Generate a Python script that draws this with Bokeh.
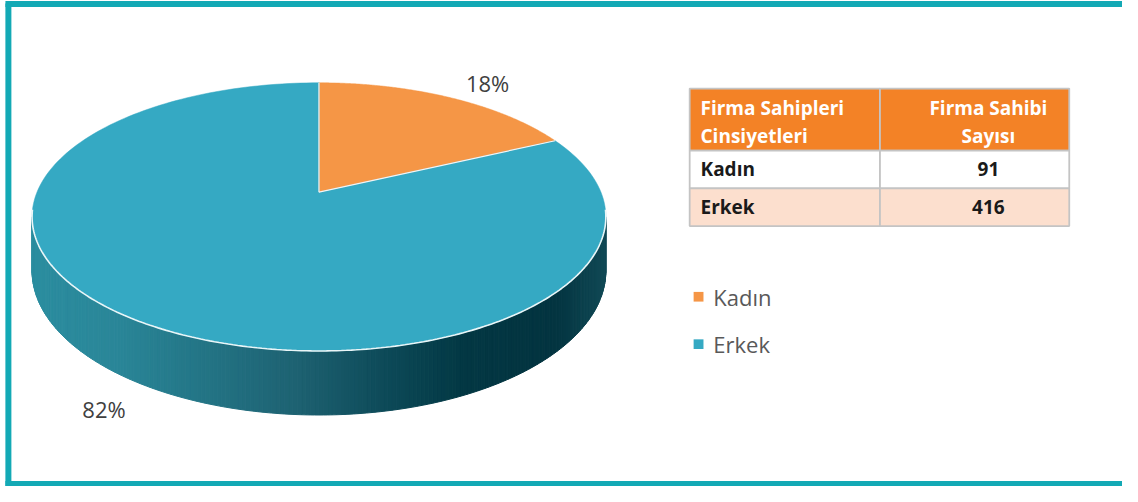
import numpy as np
from bokeh.plotting import figure
from bokeh.models import Range1d
from bokeh.core.properties import value
from bokeh.embed import file_html
from bokeh.resources import INLINE

# ---------------- data ----------------
categories = ["Kadın", "Erkek"]
counts = [91, 416]
slice_colors = ["#F59646", "#35A9C3"]
header_col1 = ["Firma Sahipleri", "Cinsiyetleri"]
header_col2 = ["Firma Sahibi", "Sayısı"]

total = sum(counts)
fractions = [c / total for c in counts]
percent_labels = [f"{round(f * 100)}%" for f in fractions]

# ---------------- layout / style ----------------
W, H = 1122, 486
REF_W, REF_H = 1138, 502
FONT = "Open Sans"
CX, CY = 323.0, 198.0          # projected pie centre (reference px)
SX, TY, K, DEPTH = 286.0, 133.8, 0.184, 54.0
TEAL_FRAME = "#13A9B5"

p = figure(width=W, height=H, x_range=Range1d(0, REF_W), y_range=Range1d(REF_H, 0),
           output_backend="svg", toolbar_location=None, x_axis_type=None, y_axis_type=None,
           min_border=0, outline_line_color=None, background_fill_color="white",
           border_fill_color="white")


def rim(phi_deg, drop=0.0):
    ph = np.radians(np.asarray(phi_deg, dtype=float))
    X, Y = np.sin(ph), np.cos(ph)
    w = 1 + K * Y
    return CX + SX * X / w, CY - TY * Y / w + drop / w


# frame (top, left, bottom)
p.segment(x0=[5, 8, 5], y0=[3.5, 3, 499.5], x1=[REF_W, 8, REF_W], y1=[3.5, 502, 499.5],
          line_color=TEAL_FRAME, line_width=6, line_cap="butt")

# slice angles (clockwise from top)
edges = np.concatenate([[0.0], np.cumsum(fractions) * 360.0])

# visible side face (silhouette where cos(phi) = -K)
phi_a = 90 + np.degrees(np.arcsin(K))
phi_b = 360 - phi_a
grad_x = [32, 120, 200, 300, 400, 470, 560, 614]
grad_c = np.array([[44, 142, 160], [42, 134, 152], [36, 118, 135], [30, 98, 114],
                   [12, 72, 86], [3, 56, 68], [3, 52, 64], [18, 74, 86]])
N = 220
ph = np.linspace(phi_a, phi_b, N + 1)
tx, ty = rim(ph)
bx, by = rim(ph, DEPTH)
sxs, sys_, scol = [], [], []
for i in range(N):
    sxs.append([tx[i], tx[i + 1], bx[i + 1], bx[i]])
    sys_.append([ty[i], ty[i + 1], by[i + 1], by[i]])
    xm = (tx[i] + tx[i + 1]) / 2
    c = [int(np.interp(xm, grad_x, grad_c[:, j])) for j in range(3)]
    scol.append("#%02x%02x%02x" % tuple(c))
p.patches(xs=sxs, ys=sys_, fill_color=scol, line_color=scol, line_width=1)

# top surfaces
txs, tys = [], []
for i in range(len(counts)):
    a = np.linspace(edges[i], edges[i + 1], 200)
    rx, ry = rim(a)
    txs.append([CX] + list(rx))
    tys.append([CY] + list(ry))
p.patches(xs=txs, ys=tys, fill_color=slice_colors, line_color=slice_colors, line_width=0.5)

# white highlight lines
fx, fy = rim(np.linspace(phi_a - 3, phi_b + 3, 200))
p.line(fx, fy, line_color="#EAF6F8", line_width=1.6)
for e in edges[:-1]:
    ex, ey = rim(e)
    p.line([CX, float(ex)], [CY, float(ey)], line_color="#F4F4F4", line_width=1.2)

# percent labels
label_pos = [(494, 85), (105, 422)]
p.text(x=[q[0] for q in label_pos], y=[q[1] for q in label_pos], text=percent_labels,
       text_align="center", text_baseline="middle", text_color="#404040",
       text_font=value(FONT), text_font_size="22px")

# legend
leg_y = [306 + 49 * i for i in range(len(categories))]
p.rect(x=[708] * len(categories), y=leg_y, width=10, height=10, fill_color=slice_colors,
       line_color=None)
p.text(x=[723] * len(categories), y=leg_y, text=categories, text_align="left",
       text_baseline="middle", text_color="#595959", text_font=value(FONT),
       text_font_size="22px")

# table
COLS = [699, 892, 1084]
ROWS = [91, 155, 194, 233]
row_fill = ["#F38226", "#FFFFFF", "#FCDFCE"]
ql, qr, qt, qb, qc = [], [], [], [], []
for r in range(3):
    for c in range(2):
        ql.append(COLS[c]); qr.append(COLS[c + 1])
        qt.append(ROWS[r]); qb.append(ROWS[r + 1]); qc.append(row_fill[r])
p.quad(left=ql, right=qr, top=qt, bottom=qb, fill_color=qc, line_color="#C4C4C4",
       line_width=1.8)

col2_x = 1002
hy = [111, 140]
TS = "19px"
p.text(x=[710, 710], y=hy, text=header_col1, text_align="left", text_baseline="middle",
       text_color="white", text_font=value(FONT), text_font_style="bold",
       text_font_size=TS)
p.text(x=[col2_x, col2_x], y=hy, text=header_col2, text_align="center",
       text_baseline="middle", text_color="white", text_font=value(FONT),
       text_font_style="bold", text_font_size=TS)
ry = [(ROWS[1] + ROWS[2]) / 2, (ROWS[2] + ROWS[3]) / 2]
p.text(x=[710, 710], y=ry, text=categories, text_align="left", text_baseline="middle",
       text_color="#1A1A1A", text_font=value(FONT), text_font_style="bold",
       text_font_size=TS)
p.text(x=[col2_x, col2_x], y=ry, text=[str(c) for c in counts], text_align="center",
       text_baseline="middle", text_color="#1A1A1A", text_font=value(FONT),
       text_font_style="bold", text_font_size=TS)

open("out.html", "w").write(file_html(p, INLINE))
